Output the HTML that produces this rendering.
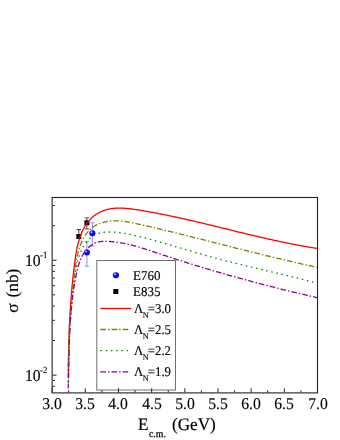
<!DOCTYPE html>
<html><head><meta charset="utf-8"><style>
html,body{margin:0;padding:0;background:#fff}
body{width:340px;height:440px;position:relative;overflow:hidden;font-family:"Liberation Serif",serif;color:#000;text-rendering:geometricPrecision}
#tx{position:absolute;left:0;top:0;width:340px;height:440px;will-change:transform;transform:translateZ(0)}
.t{position:absolute;white-space:nowrap;line-height:1;-webkit-text-stroke:0.15px #000}
.s{position:relative;display:inline-block;line-height:1;-webkit-text-stroke-width:0.12px}
</style></head><body>
<svg width="340" height="440" viewBox="0 0 340 440" style="position:absolute;left:0;top:0">
<defs><radialGradient id="b" cx="0.36" cy="0.33" r="0.62"><stop offset="0" stop-color="#e8e8ff"/><stop offset="0.22" stop-color="#7070ff"/><stop offset="0.42" stop-color="#0808ff"/><stop offset="1" stop-color="#0000f0"/></radialGradient></defs>
<path d="M78.8,229.5 V236 M76.6,229.5 H81" stroke="#404040" stroke-width="1" fill="none"/>
<path d="M86.9,217.8 V229.0 M84.7,217.8 H89.10000000000001 M84.7,229.0 H89.10000000000001" stroke="#404040" stroke-width="0.9" fill="none"/>
<rect x="76.30" y="234.00" width="5" height="5" fill="#000"/>
<rect x="84.40" y="220.30" width="5" height="5" fill="#000"/>
<path d="M86.9,241.4 V266.2 M84.7,241.4 H89.10000000000001 M84.7,266.2 H89.10000000000001" stroke="#8080ff" stroke-width="0.9" fill="none"/>
<path d="M92.4,222.8 V246.1 M90.2,222.8 H94.60000000000001 M90.2,246.1 H94.60000000000001" stroke="#8080ff" stroke-width="0.9" fill="none"/>
<circle cx="86.9" cy="252.5" r="3.05" fill="url(#b)"/>
<circle cx="92.4" cy="233.3" r="3.05" fill="url(#b)"/>
<clipPath id="c"><rect x="52.15" y="197.5" width="265.35" height="195.39999999999998"/></clipPath>
<g clip-path="url(#c)" fill="none" stroke-width="1.3">
<path d="M68.39,377.07 L68.39,376.07 L68.39,375.07 L68.40,374.06 L68.40,373.06 L68.41,372.06 L68.41,371.05 L68.42,370.05 L68.43,369.05 L68.43,368.05 L68.44,367.05 L68.45,366.05 L68.46,365.05 L68.47,364.05 L68.48,363.05 L68.49,362.06 L68.51,361.06 L68.52,360.06 L68.53,359.07 L68.55,358.07 L68.56,357.07 L68.58,356.08 L68.59,355.08 L68.61,354.09 L68.63,353.09 L68.64,352.10 L68.66,351.11 L68.68,350.11 L68.70,349.12 L68.73,348.13 L68.75,347.14 L68.77,346.15 L68.79,345.15 L68.82,344.16 L68.85,343.17 L68.87,342.18 L68.90,341.19 L68.93,340.20 L68.96,339.21 L68.99,338.22 L69.02,337.23 L69.05,336.24 L69.08,335.26 L69.11,334.27 L69.15,333.28 L69.18,332.29 L69.22,331.30 L69.26,330.31 L69.30,329.33 L69.33,328.34 L69.38,327.35 L69.42,326.37 L69.46,325.38 L69.50,324.39 L69.55,323.41 L69.59,322.42 L69.64,321.43 L69.69,320.45 L69.74,319.46 L69.78,318.47 L69.84,317.49 L69.89,316.50 L69.94,315.52 L70.00,314.53 L70.05,313.54 L70.11,312.56 L70.17,311.57 L70.22,310.59 L70.28,309.60 L70.35,308.62 L70.41,307.63 L70.47,306.65 L70.54,305.66 L70.60,304.67 L70.67,303.69 L70.74,302.70 L70.81,301.72 L70.88,300.73 L70.96,299.75 L71.03,298.76 L71.10,297.77 L71.18,296.79 L71.26,295.80 L71.34,294.82 L71.42,293.83 L71.50,292.84 L71.59,291.86 L71.67,290.87 L71.76,289.88 L71.84,288.90 L71.93,287.91 L72.02,286.92 L72.12,285.94 L72.21,284.95 L72.31,283.96 L72.40,282.97 L72.50,281.98 L72.60,281.00 L72.70,280.01 L72.80,279.02 L72.91,278.03 L73.01,277.04 L73.12,276.05 L73.23,275.06 L73.34,274.07 L73.45,273.08 L73.56,272.09 L73.68,271.10 L73.80,270.11 L73.91,269.12 L74.03,268.13 L74.16,267.13 L74.28,266.14 L74.40,265.15 L74.53,264.16 L74.66,263.16 L74.79,262.17 L74.92,261.17 L75.06,260.18 L75.19,259.18 L75.33,258.19 L75.47,257.20 L75.62,256.20 L75.77,255.21 L75.92,254.22 L76.08,253.23 L76.25,252.24 L76.42,251.25 L76.60,250.26 L76.79,249.27 L76.98,248.29 L77.18,247.31 L77.39,246.33 L77.61,245.36 L77.84,244.38 L78.08,243.41 L78.33,242.45 L78.59,241.49 L78.87,240.53 L79.15,239.57 L79.45,238.62 L79.76,237.67 L80.09,236.73 L80.43,235.79 L80.78,234.86 L81.15,233.93 L81.53,233.01 L81.93,232.09 L82.35,231.18 L82.78,230.28 L83.23,229.38 L83.70,228.50 L84.18,227.62 L84.68,226.76 L85.19,225.91 L85.73,225.07 L86.27,224.25 L86.84,223.43 L87.43,222.64 L88.03,221.86 L88.65,221.10 L89.29,220.35 L89.94,219.62 L90.62,218.91 L91.31,218.23 L92.02,217.56 L92.75,216.92 L93.50,216.29 L94.27,215.69 L95.05,215.12 L95.85,214.56 L96.66,214.03 L97.49,213.52 L98.33,213.04 L99.19,212.57 L100.05,212.13 L100.93,211.72 L101.82,211.33 L102.71,210.96 L103.62,210.62 L104.53,210.30 L105.44,210.00 L106.37,209.73 L107.30,209.49 L108.23,209.26 L109.17,209.06 L110.12,208.88 L111.07,208.72 L112.02,208.58 L112.98,208.46 L113.94,208.35 L114.91,208.27 L115.88,208.20 L116.86,208.15 L117.83,208.12 L118.82,208.10 L119.80,208.10 L120.79,208.11 L121.78,208.14 L122.77,208.18 L123.77,208.23 L124.77,208.29 L125.77,208.37 L126.77,208.45 L127.77,208.55 L128.77,208.65 L129.78,208.77 L130.78,208.89 L131.79,209.01 L132.80,209.15 L133.81,209.29 L134.81,209.43 L135.82,209.59 L136.83,209.74 L137.84,209.90 L138.84,210.06 L139.85,210.22 L140.85,210.39 L141.85,210.55 L142.86,210.72 L143.86,210.89 L144.86,211.06 L145.86,211.23 L146.85,211.41 L147.85,211.58 L148.85,211.76 L149.84,211.94 L150.84,212.12 L151.83,212.30 L152.82,212.48 L153.81,212.67 L154.80,212.85 L155.79,213.04 L156.78,213.22 L157.77,213.41 L158.75,213.60 L159.74,213.80 L160.72,213.99 L161.71,214.18 L162.69,214.38 L163.68,214.57 L164.66,214.77 L165.64,214.97 L166.62,215.17 L167.60,215.37 L168.58,215.57 L169.55,215.77 L170.53,215.98 L171.51,216.18 L172.48,216.39 L173.46,216.60 L174.43,216.80 L175.41,217.01 L176.38,217.22 L177.35,217.43 L178.33,217.65 L179.30,217.86 L180.27,218.07 L181.24,218.29 L182.21,218.50 L183.18,218.72 L184.14,218.93 L185.11,219.15 L186.08,219.37 L187.05,219.59 L188.01,219.81 L188.98,220.03 L189.94,220.25 L190.91,220.47 L191.87,220.69 L192.84,220.92 L193.80,221.14 L194.76,221.36 L195.72,221.59 L196.69,221.81 L197.65,222.04 L198.61,222.27 L199.57,222.49 L200.53,222.72 L201.49,222.95 L202.45,223.18 L203.41,223.41 L204.37,223.64 L205.33,223.87 L206.29,224.10 L207.25,224.33 L208.20,224.56 L209.16,224.79 L210.12,225.02 L211.08,225.25 L212.03,225.48 L212.99,225.72 L213.95,225.95 L214.90,226.18 L215.86,226.41 L216.82,226.65 L217.77,226.88 L218.73,227.11 L219.69,227.35 L220.64,227.58 L221.60,227.82 L222.55,228.05 L223.51,228.28 L224.46,228.52 L225.42,228.75 L226.37,228.99 L227.33,229.22 L228.28,229.45 L229.24,229.69 L230.19,229.92 L231.15,230.16 L232.10,230.39 L233.06,230.62 L234.02,230.86 L234.97,231.09 L235.93,231.32 L236.88,231.56 L237.84,231.79 L238.79,232.02 L239.75,232.26 L240.70,232.49 L241.66,232.72 L242.62,232.95 L243.57,233.18 L244.53,233.41 L245.49,233.64 L246.44,233.87 L247.40,234.10 L248.36,234.33 L249.32,234.56 L250.27,234.79 L251.23,235.02 L252.19,235.25 L253.15,235.47 L254.11,235.70 L255.07,235.93 L256.03,236.15 L256.99,236.38 L257.95,236.60 L258.91,236.83 L259.87,237.05 L260.83,237.27 L261.79,237.50 L262.75,237.72 L263.72,237.94 L264.68,238.16 L265.64,238.38 L266.61,238.60 L267.57,238.81 L268.54,239.03 L269.50,239.25 L270.47,239.46 L271.43,239.68 L272.40,239.89 L273.37,240.10 L274.34,240.32 L275.31,240.53 L276.27,240.74 L277.24,240.95 L278.21,241.15 L279.18,241.36 L280.16,241.57 L281.13,241.77 L282.10,241.98 L283.07,242.18 L284.05,242.38 L285.02,242.59 L286.00,242.79 L286.97,242.98 L287.95,243.18 L288.93,243.38 L289.91,243.57 L290.89,243.77 L291.86,243.96 L292.85,244.15 L293.83,244.35 L294.81,244.53 L295.79,244.72 L296.77,244.91 L297.76,245.10 L298.74,245.28 L299.73,245.46 L300.72,245.64 L301.71,245.83 L302.69,246.00 L303.68,246.18 L304.67,246.36 L305.67,246.53 L306.66,246.71 L307.65,246.88 L308.65,247.05 L309.64,247.22 L310.64,247.38 L311.63,247.55 L312.63,247.71 L313.63,247.87 L314.63,248.04 L315.63,248.19 L316.63,248.35 L317.64,248.51" stroke="#ff0000" stroke-dashoffset="0"/>
<path d="M68.48,380.09 L68.46,379.10 L68.45,378.10 L68.43,377.11 L68.42,376.12 L68.41,375.13 L68.41,374.14 L68.40,373.15 L68.39,372.16 L68.39,371.18 L68.39,370.19 L68.39,369.21 L68.39,368.22 L68.39,367.24 L68.40,366.25 L68.40,365.27 L68.41,364.29 L68.42,363.31 L68.43,362.33 L68.44,361.35 L68.45,360.37 L68.47,359.39 L68.48,358.41 L68.50,357.43 L68.52,356.46 L68.54,355.48 L68.56,354.50 L68.59,353.53 L68.61,352.55 L68.64,351.58 L68.66,350.60 L68.69,349.63 L68.72,348.66 L68.75,347.68 L68.78,346.71 L68.82,345.74 L68.85,344.77 L68.89,343.80 L68.93,342.83 L68.97,341.86 L69.01,340.89 L69.05,339.92 L69.09,338.95 L69.13,337.98 L69.18,337.01 L69.23,336.04 L69.27,335.07 L69.32,334.10 L69.37,333.13 L69.43,332.16 L69.48,331.20 L69.53,330.23 L69.59,329.26 L69.64,328.29 L69.70,327.33 L69.76,326.36 L69.82,325.39 L69.88,324.42 L69.94,323.46 L70.01,322.49 L70.07,321.52 L70.14,320.56 L70.20,319.59 L70.27,318.62 L70.34,317.65 L70.41,316.69 L70.48,315.72 L70.55,314.75 L70.62,313.78 L70.70,312.82 L70.77,311.85 L70.85,310.88 L70.93,309.91 L71.01,308.94 L71.08,307.98 L71.16,307.01 L71.25,306.04 L71.33,305.07 L71.41,304.10 L71.50,303.13 L71.58,302.16 L71.67,301.19 L71.75,300.22 L71.84,299.25 L71.93,298.28 L72.02,297.31 L72.11,296.33 L72.20,295.36 L72.30,294.39 L72.39,293.41 L72.48,292.44 L72.58,291.47 L72.68,290.49 L72.77,289.52 L72.87,288.54 L72.97,287.57 L73.07,286.59 L73.17,285.61 L73.27,284.63 L73.37,283.66 L73.48,282.68 L73.58,281.70 L73.68,280.72 L73.79,279.74 L73.90,278.75 L74.00,277.77 L74.11,276.79 L74.22,275.81 L74.33,274.82 L74.44,273.84 L74.55,272.85 L74.67,271.87 L74.78,270.89 L74.91,269.90 L75.03,268.92 L75.16,267.94 L75.29,266.95 L75.43,265.97 L75.57,264.99 L75.72,264.02 L75.88,263.04 L76.04,262.07 L76.20,261.09 L76.38,260.12 L76.56,259.15 L76.75,258.19 L76.95,257.23 L77.15,256.27 L77.37,255.31 L77.59,254.36 L77.83,253.40 L78.08,252.46 L78.33,251.51 L78.60,250.57 L78.88,249.64 L79.17,248.71 L79.47,247.78 L79.79,246.86 L80.11,245.94 L80.46,245.03 L80.81,244.12 L81.18,243.22 L81.57,242.33 L81.97,241.43 L82.38,240.55 L82.81,239.68 L83.26,238.81 L83.72,237.95 L84.20,237.11 L84.70,236.27 L85.22,235.46 L85.75,234.65 L86.31,233.86 L86.88,233.09 L87.47,232.34 L88.08,231.61 L88.71,230.89 L89.36,230.20 L90.04,229.53 L90.73,228.89 L91.45,228.27 L92.18,227.68 L92.94,227.11 L93.73,226.57 L94.53,226.06 L95.35,225.57 L96.18,225.11 L97.04,224.68 L97.91,224.27 L98.79,223.88 L99.69,223.52 L100.60,223.18 L101.52,222.87 L102.45,222.58 L103.39,222.31 L104.33,222.07 L105.29,221.85 L106.25,221.65 L107.21,221.47 L108.17,221.31 L109.14,221.18 L110.11,221.07 L111.08,220.97 L112.05,220.90 L113.02,220.85 L113.99,220.81 L114.96,220.79 L115.93,220.79 L116.90,220.81 L117.86,220.84 L118.83,220.89 L119.80,220.95 L120.77,221.03 L121.74,221.11 L122.71,221.22 L123.68,221.33 L124.65,221.46 L125.61,221.59 L126.58,221.74 L127.55,221.89 L128.52,222.06 L129.49,222.23 L130.45,222.41 L131.42,222.60 L132.39,222.79 L133.35,222.99 L134.32,223.19 L135.28,223.40 L136.25,223.61 L137.21,223.83 L138.18,224.04 L139.14,224.26 L140.10,224.48 L141.07,224.70 L142.03,224.92 L142.99,225.14 L143.95,225.36 L144.91,225.59 L145.87,225.81 L146.83,226.03 L147.79,226.25 L148.75,226.48 L149.71,226.70 L150.67,226.92 L151.63,227.15 L152.59,227.37 L153.54,227.60 L154.50,227.82 L155.46,228.05 L156.41,228.28 L157.37,228.50 L158.32,228.73 L159.28,228.96 L160.23,229.19 L161.19,229.41 L162.14,229.64 L163.09,229.87 L164.05,230.10 L165.00,230.33 L165.95,230.56 L166.90,230.79 L167.86,231.02 L168.81,231.25 L169.76,231.48 L170.71,231.71 L171.66,231.94 L172.61,232.18 L173.56,232.41 L174.51,232.64 L175.46,232.87 L176.41,233.11 L177.36,233.34 L178.30,233.57 L179.25,233.81 L180.20,234.04 L181.15,234.27 L182.10,234.51 L183.04,234.74 L183.99,234.98 L184.94,235.21 L185.88,235.45 L186.83,235.68 L187.78,235.92 L188.72,236.15 L189.67,236.39 L190.61,236.62 L191.56,236.86 L192.50,237.10 L193.45,237.33 L194.39,237.57 L195.34,237.81 L196.28,238.04 L197.23,238.28 L198.17,238.52 L199.11,238.75 L200.06,238.99 L201.00,239.23 L201.95,239.47 L202.89,239.70 L203.83,239.94 L204.78,240.18 L205.72,240.42 L206.66,240.66 L207.60,240.89 L208.55,241.13 L209.49,241.37 L210.43,241.61 L211.37,241.85 L212.32,242.08 L213.26,242.32 L214.20,242.56 L215.14,242.80 L216.08,243.04 L217.03,243.28 L217.97,243.51 L218.91,243.75 L219.85,243.99 L220.79,244.23 L221.74,244.47 L222.68,244.71 L223.62,244.94 L224.56,245.18 L225.50,245.42 L226.44,245.66 L227.39,245.90 L228.33,246.13 L229.27,246.37 L230.21,246.61 L231.15,246.85 L232.10,247.09 L233.04,247.32 L233.98,247.56 L234.92,247.80 L235.86,248.04 L236.80,248.27 L237.75,248.51 L238.69,248.75 L239.63,248.98 L240.57,249.22 L241.52,249.46 L242.46,249.69 L243.40,249.93 L244.34,250.16 L245.29,250.40 L246.23,250.64 L247.17,250.87 L248.11,251.11 L249.06,251.34 L250.00,251.58 L250.94,251.81 L251.89,252.05 L252.83,252.28 L253.78,252.52 L254.72,252.75 L255.66,252.98 L256.61,253.22 L257.55,253.45 L258.50,253.68 L259.44,253.92 L260.39,254.15 L261.33,254.38 L262.28,254.61 L263.22,254.84 L264.17,255.08 L265.11,255.31 L266.06,255.54 L267.01,255.77 L267.95,256.00 L268.90,256.23 L269.85,256.46 L270.80,256.69 L271.74,256.92 L272.69,257.15 L273.64,257.38 L274.59,257.60 L275.54,257.83 L276.48,258.06 L277.43,258.29 L278.38,258.51 L279.33,258.74 L280.28,258.96 L281.23,259.19 L282.18,259.42 L283.13,259.64 L284.09,259.86 L285.04,260.09 L285.99,260.31 L286.94,260.54 L287.89,260.76 L288.85,260.98 L289.80,261.20 L290.75,261.42 L291.71,261.64 L292.66,261.87 L293.62,262.09 L294.57,262.31 L295.53,262.52 L296.48,262.74 L297.44,262.96 L298.40,263.18 L299.35,263.40 L300.31,263.61 L301.27,263.83 L302.23,264.05 L303.18,264.26 L304.14,264.48 L305.10,264.69 L306.06,264.90 L307.02,265.12 L307.98,265.33 L308.94,265.54 L309.91,265.75 L310.87,265.96 L311.83,266.18 L312.79,266.39 L313.76,266.59 L314.72,266.80 L315.68,267.01 L316.65,267.22 L317.62,267.43" stroke="#808000" stroke-dasharray="5.6 2.05 1.45 2.05" stroke-dashoffset="-1.4"/>
<path d="M68.44,384.63 L68.43,383.63 L68.42,382.64 L68.41,381.65 L68.40,380.66 L68.40,379.67 L68.39,378.68 L68.39,377.69 L68.39,376.71 L68.39,375.72 L68.39,374.74 L68.39,373.76 L68.40,372.78 L68.40,371.80 L68.41,370.82 L68.42,369.84 L68.42,368.86 L68.44,367.89 L68.45,366.91 L68.46,365.94 L68.47,364.97 L68.49,364.00 L68.51,363.03 L68.53,362.06 L68.55,361.09 L68.57,360.12 L68.59,359.16 L68.61,358.19 L68.64,357.23 L68.66,356.26 L68.69,355.30 L68.72,354.33 L68.75,353.37 L68.78,352.41 L68.81,351.45 L68.85,350.49 L68.88,349.53 L68.92,348.57 L68.95,347.61 L68.99,346.65 L69.03,345.70 L69.07,344.74 L69.12,343.78 L69.16,342.83 L69.20,341.87 L69.25,340.91 L69.30,339.96 L69.35,339.00 L69.40,338.05 L69.45,337.09 L69.50,336.14 L69.55,335.19 L69.61,334.23 L69.66,333.28 L69.72,332.32 L69.78,331.37 L69.84,330.42 L69.90,329.46 L69.96,328.51 L70.02,327.56 L70.09,326.60 L70.15,325.65 L70.22,324.70 L70.28,323.74 L70.35,322.79 L70.42,321.84 L70.49,320.88 L70.57,319.93 L70.64,318.97 L70.71,318.02 L70.79,317.06 L70.87,316.11 L70.94,315.15 L71.02,314.20 L71.10,313.24 L71.18,312.28 L71.27,311.33 L71.35,310.37 L71.44,309.41 L71.52,308.45 L71.61,307.49 L71.70,306.53 L71.78,305.57 L71.88,304.61 L71.97,303.65 L72.06,302.69 L72.15,301.72 L72.25,300.76 L72.34,299.79 L72.44,298.83 L72.54,297.86 L72.64,296.90 L72.74,295.93 L72.84,294.96 L72.94,293.99 L73.04,293.02 L73.15,292.05 L73.25,291.07 L73.36,290.10 L73.46,289.13 L73.57,288.15 L73.68,287.17 L73.79,286.20 L73.90,285.22 L74.02,284.24 L74.13,283.26 L74.25,282.27 L74.36,281.29 L74.48,280.31 L74.60,279.32 L74.71,278.33 L74.84,277.35 L74.96,276.36 L75.09,275.37 L75.22,274.38 L75.35,273.40 L75.49,272.41 L75.63,271.43 L75.78,270.45 L75.94,269.47 L76.10,268.49 L76.27,267.52 L76.45,266.55 L76.63,265.58 L76.82,264.62 L77.03,263.66 L77.24,262.71 L77.46,261.76 L77.69,260.82 L77.93,259.88 L78.19,258.95 L78.45,258.03 L78.73,257.11 L79.02,256.21 L79.33,255.30 L79.64,254.41 L79.98,253.53 L80.32,252.65 L80.69,251.78 L81.07,250.92 L81.46,250.08 L81.87,249.24 L82.30,248.41 L82.75,247.59 L83.22,246.79 L83.70,246.00 L84.20,245.21 L84.73,244.44 L85.27,243.69 L85.84,242.94 L86.42,242.21 L87.03,241.50 L87.66,240.80 L88.31,240.11 L88.99,239.43 L89.69,238.78 L90.41,238.13 L91.16,237.51 L91.93,236.91 L92.72,236.34 L93.53,235.79 L94.36,235.27 L95.21,234.79 L96.08,234.35 L96.96,233.94 L97.87,233.58 L98.78,233.26 L99.71,233.00 L100.66,232.77 L101.61,232.59 L102.57,232.45 L103.53,232.33 L104.50,232.23 L105.47,232.16 L106.44,232.10 L107.41,232.05 L108.38,232.02 L109.34,232.00 L110.31,232.00 L111.27,232.01 L112.24,232.03 L113.20,232.07 L114.16,232.12 L115.13,232.18 L116.09,232.25 L117.05,232.34 L118.01,232.43 L118.97,232.54 L119.93,232.65 L120.89,232.78 L121.85,232.91 L122.80,233.05 L123.76,233.20 L124.71,233.36 L125.67,233.53 L126.62,233.71 L127.58,233.89 L128.53,234.08 L129.48,234.27 L130.43,234.47 L131.38,234.68 L132.33,234.89 L133.28,235.10 L134.23,235.32 L135.18,235.54 L136.13,235.77 L137.07,236.00 L138.02,236.23 L138.96,236.47 L139.91,236.71 L140.85,236.94 L141.79,237.18 L142.73,237.43 L143.68,237.67 L144.62,237.91 L145.56,238.16 L146.50,238.41 L147.43,238.66 L148.37,238.91 L149.31,239.16 L150.25,239.41 L151.18,239.66 L152.12,239.92 L153.05,240.17 L153.99,240.43 L154.92,240.69 L155.85,240.95 L156.79,241.21 L157.72,241.47 L158.65,241.73 L159.58,242.00 L160.51,242.26 L161.44,242.52 L162.38,242.79 L163.31,243.05 L164.23,243.32 L165.16,243.59 L166.09,243.86 L167.02,244.13 L167.95,244.39 L168.88,244.66 L169.80,244.93 L170.73,245.21 L171.66,245.48 L172.59,245.75 L173.51,246.02 L174.44,246.29 L175.37,246.57 L176.29,246.84 L177.22,247.11 L178.14,247.38 L179.07,247.66 L179.99,247.93 L180.92,248.21 L181.85,248.48 L182.77,248.75 L183.70,249.03 L184.62,249.30 L185.55,249.57 L186.47,249.85 L187.40,250.12 L188.32,250.39 L189.25,250.67 L190.17,250.94 L191.10,251.21 L192.02,251.48 L192.95,251.76 L193.87,252.03 L194.80,252.30 L195.72,252.57 L196.65,252.84 L197.58,253.11 L198.50,253.38 L199.43,253.65 L200.36,253.91 L201.28,254.18 L202.21,254.45 L203.14,254.71 L204.07,254.98 L204.99,255.24 L205.92,255.50 L206.85,255.77 L207.78,256.03 L208.71,256.29 L209.64,256.55 L210.57,256.81 L211.50,257.06 L212.43,257.32 L213.36,257.58 L214.29,257.83 L215.22,258.08 L216.16,258.33 L217.09,258.59 L218.02,258.83 L218.96,259.08 L219.89,259.33 L220.83,259.58 L221.76,259.82 L222.70,260.07 L223.63,260.31 L224.57,260.55 L225.51,260.79 L226.44,261.03 L227.38,261.27 L228.32,261.51 L229.26,261.75 L230.19,261.98 L231.13,262.22 L232.07,262.45 L233.01,262.69 L233.95,262.92 L234.89,263.15 L235.83,263.39 L236.77,263.62 L237.71,263.85 L238.65,264.08 L239.59,264.31 L240.53,264.54 L241.48,264.76 L242.42,264.99 L243.36,265.22 L244.30,265.45 L245.24,265.67 L246.19,265.90 L247.13,266.12 L248.07,266.35 L249.01,266.57 L249.96,266.80 L250.90,267.02 L251.84,267.24 L252.79,267.47 L253.73,267.69 L254.67,267.91 L255.62,268.13 L256.56,268.35 L257.50,268.58 L258.45,268.80 L259.39,269.02 L260.33,269.24 L261.28,269.46 L262.22,269.68 L263.17,269.90 L264.11,270.12 L265.05,270.34 L266.00,270.57 L266.94,270.79 L267.88,271.01 L268.83,271.23 L269.77,271.45 L270.71,271.67 L271.66,271.89 L272.60,272.11 L273.54,272.34 L274.49,272.56 L275.43,272.78 L276.37,273.00 L277.31,273.22 L278.26,273.45 L279.20,273.67 L280.14,273.89 L281.08,274.12 L282.03,274.34 L282.97,274.57 L283.91,274.79 L284.85,275.02 L285.79,275.24 L286.73,275.47 L287.67,275.70 L288.61,275.93 L289.55,276.15 L290.49,276.38 L291.43,276.61 L292.37,276.84 L293.31,277.07 L294.25,277.30 L295.19,277.54 L296.12,277.77 L297.06,278.00 L298.00,278.24 L298.94,278.47 L299.87,278.71 L300.81,278.95 L301.74,279.18 L302.68,279.42 L303.61,279.66 L304.55,279.90 L305.48,280.14 L306.42,280.39 L307.35,280.63 L308.28,280.87 L309.21,281.12 L310.15,281.36 L311.08,281.61 L312.01,281.86 L312.94,282.11 L313.87,282.36 L314.80,282.61 L315.73,282.87 L316.66,283.12 L317.58,283.38" stroke="#008a00" stroke-dasharray="1.5 3.74" stroke-dashoffset="-2.85"/>
<path d="M68.23,388.43 L68.26,387.46 L68.30,386.50 L68.32,385.53 L68.35,384.57 L68.38,383.61 L68.41,382.64 L68.43,381.68 L68.46,380.72 L68.48,379.76 L68.51,378.79 L68.53,377.83 L68.56,376.87 L68.58,375.91 L68.60,374.94 L68.62,373.98 L68.64,373.02 L68.67,372.06 L68.69,371.10 L68.71,370.13 L68.73,369.17 L68.75,368.21 L68.77,367.25 L68.79,366.29 L68.81,365.33 L68.83,364.37 L68.85,363.41 L68.87,362.45 L68.89,361.49 L68.91,360.53 L68.93,359.57 L68.95,358.61 L68.97,357.65 L68.99,356.69 L69.01,355.73 L69.03,354.77 L69.06,353.81 L69.08,352.85 L69.10,351.89 L69.13,350.93 L69.15,349.97 L69.17,349.01 L69.20,348.05 L69.23,347.10 L69.25,346.14 L69.28,345.18 L69.31,344.22 L69.34,343.26 L69.37,342.31 L69.40,341.35 L69.43,340.39 L69.47,339.43 L69.50,338.48 L69.54,337.52 L69.57,336.56 L69.61,335.60 L69.65,334.65 L69.69,333.69 L69.73,332.73 L69.77,331.78 L69.82,330.82 L69.86,329.87 L69.91,328.91 L69.96,327.95 L70.01,327.00 L70.06,326.04 L70.11,325.09 L70.17,324.13 L70.22,323.18 L70.28,322.22 L70.34,321.26 L70.40,320.31 L70.46,319.35 L70.53,318.40 L70.60,317.45 L70.67,316.49 L70.74,315.54 L70.81,314.58 L70.88,313.63 L70.96,312.67 L71.04,311.72 L71.12,310.77 L71.21,309.81 L71.29,308.86 L71.38,307.91 L71.47,306.95 L71.57,306.00 L71.66,305.05 L71.76,304.09 L71.86,303.14 L71.96,302.19 L72.07,301.24 L72.18,300.28 L72.29,299.33 L72.40,298.38 L72.52,297.43 L72.64,296.48 L72.76,295.52 L72.88,294.57 L73.01,293.62 L73.14,292.67 L73.27,291.72 L73.41,290.77 L73.55,289.82 L73.69,288.86 L73.84,287.91 L73.99,286.96 L74.14,286.01 L74.30,285.06 L74.46,284.11 L74.62,283.16 L74.78,282.21 L74.95,281.26 L75.12,280.31 L75.30,279.36 L75.48,278.41 L75.66,277.46 L75.85,276.51 L76.04,275.56 L76.23,274.62 L76.43,273.67 L76.63,272.72 L76.84,271.77 L77.06,270.83 L77.28,269.88 L77.51,268.94 L77.75,268.01 L78.00,267.07 L78.26,266.14 L78.54,265.22 L78.82,264.30 L79.12,263.38 L79.43,262.47 L79.76,261.57 L80.10,260.67 L80.46,259.78 L80.83,258.90 L81.23,258.02 L81.64,257.15 L82.07,256.30 L82.52,255.45 L82.99,254.61 L83.49,253.78 L84.01,252.96 L84.55,252.15 L85.11,251.36 L85.70,250.58 L86.31,249.82 L86.94,249.08 L87.59,248.37 L88.26,247.68 L88.96,247.02 L89.68,246.39 L90.41,245.79 L91.17,245.22 L91.95,244.69 L92.75,244.20 L93.56,243.75 L94.40,243.34 L95.25,242.97 L96.12,242.64 L97.00,242.35 L97.89,242.10 L98.80,241.89 L99.72,241.71 L100.65,241.57 L101.58,241.46 L102.53,241.39 L103.47,241.34 L104.43,241.31 L105.38,241.31 L106.34,241.32 L107.30,241.35 L108.26,241.39 L109.21,241.45 L110.17,241.51 L111.12,241.58 L112.07,241.66 L113.03,241.75 L113.98,241.85 L114.92,241.95 L115.87,242.07 L116.82,242.20 L117.76,242.33 L118.71,242.47 L119.65,242.62 L120.59,242.78 L121.53,242.94 L122.47,243.11 L123.41,243.29 L124.35,243.48 L125.29,243.67 L126.22,243.87 L127.16,244.07 L128.09,244.29 L129.02,244.50 L129.96,244.73 L130.89,244.96 L131.82,245.19 L132.75,245.43 L133.68,245.68 L134.61,245.93 L135.53,246.18 L136.46,246.44 L137.39,246.70 L138.31,246.97 L139.24,247.24 L140.16,247.52 L141.08,247.80 L142.01,248.08 L142.93,248.36 L143.85,248.65 L144.77,248.94 L145.70,249.23 L146.62,249.53 L147.54,249.83 L148.46,250.13 L149.38,250.43 L150.30,250.73 L151.21,251.03 L152.13,251.34 L153.05,251.65 L153.97,251.95 L154.89,252.26 L155.81,252.57 L156.72,252.88 L157.64,253.18 L158.56,253.49 L159.48,253.80 L160.39,254.11 L161.31,254.41 L162.23,254.72 L163.15,255.02 L164.06,255.33 L164.98,255.63 L165.90,255.94 L166.81,256.24 L167.73,256.54 L168.65,256.84 L169.56,257.14 L170.48,257.44 L171.40,257.74 L172.31,258.04 L173.23,258.34 L174.15,258.63 L175.06,258.93 L175.98,259.23 L176.90,259.52 L177.81,259.82 L178.73,260.11 L179.65,260.40 L180.56,260.70 L181.48,260.99 L182.40,261.28 L183.31,261.57 L184.23,261.86 L185.15,262.15 L186.06,262.44 L186.98,262.73 L187.90,263.01 L188.82,263.30 L189.73,263.59 L190.65,263.87 L191.57,264.16 L192.48,264.44 L193.40,264.73 L194.32,265.01 L195.23,265.29 L196.15,265.57 L197.07,265.85 L197.98,266.14 L198.90,266.42 L199.82,266.70 L200.74,266.97 L201.65,267.25 L202.57,267.53 L203.49,267.81 L204.41,268.08 L205.32,268.36 L206.24,268.63 L207.16,268.91 L208.08,269.18 L208.99,269.46 L209.91,269.73 L210.83,270.00 L211.75,270.27 L212.67,270.54 L213.58,270.81 L214.50,271.08 L215.42,271.35 L216.34,271.62 L217.26,271.89 L218.18,272.16 L219.10,272.43 L220.02,272.69 L220.93,272.96 L221.85,273.22 L222.77,273.49 L223.69,273.75 L224.61,274.02 L225.53,274.28 L226.45,274.54 L227.37,274.80 L228.29,275.06 L229.21,275.32 L230.13,275.58 L231.05,275.84 L231.97,276.10 L232.89,276.36 L233.81,276.62 L234.74,276.88 L235.66,277.13 L236.58,277.39 L237.50,277.65 L238.42,277.90 L239.34,278.16 L240.26,278.41 L241.19,278.66 L242.11,278.92 L243.03,279.17 L243.95,279.42 L244.88,279.67 L245.80,279.92 L246.72,280.17 L247.65,280.42 L248.57,280.67 L249.49,280.92 L250.42,281.17 L251.34,281.42 L252.27,281.66 L253.19,281.91 L254.12,282.16 L255.04,282.40 L255.97,282.65 L256.89,282.89 L257.82,283.13 L258.74,283.38 L259.67,283.62 L260.59,283.86 L261.52,284.11 L262.45,284.35 L263.37,284.59 L264.30,284.83 L265.23,285.07 L266.16,285.31 L267.08,285.55 L268.01,285.78 L268.94,286.02 L269.87,286.26 L270.80,286.50 L271.73,286.73 L272.65,286.97 L273.58,287.20 L274.51,287.44 L275.44,287.67 L276.37,287.91 L277.30,288.14 L278.24,288.37 L279.17,288.61 L280.10,288.84 L281.03,289.07 L281.96,289.30 L282.89,289.53 L283.83,289.76 L284.76,289.99 L285.69,290.22 L286.62,290.45 L287.56,290.68 L288.49,290.90 L289.43,291.13 L290.36,291.36 L291.30,291.58 L292.23,291.81 L293.17,292.03 L294.10,292.26 L295.04,292.48 L295.97,292.71 L296.91,292.93 L297.85,293.15 L298.78,293.38 L299.72,293.60 L300.66,293.82 L301.60,294.04 L302.54,294.26 L303.48,294.48 L304.41,294.70 L305.35,294.92 L306.29,295.14 L307.23,295.36 L308.17,295.58 L309.12,295.80 L310.06,296.01 L311.00,296.23 L311.94,296.45 L312.88,296.66 L313.83,296.88 L314.77,297.09 L315.71,297.31 L316.66,297.52 L317.60,297.74" stroke="#900090" stroke-dasharray="5.6 2.05 1.45 2.05" stroke-dashoffset="0.75"/>
</g>
<rect x="67.7" y="381.5" width="1.3" height="1.5" fill="#008a00"/>
<rect x="96.8" y="260.5" width="78.7" height="129.5" fill="#fff" stroke="#707070" stroke-width="1"/>
<circle cx="115.9" cy="275.3" r="3.05" fill="url(#b)"/>
<rect x="113.3" y="289.0" width="5.0" height="5.0" fill="#000"/>
<path d="M100.4,308.5 H131.3" stroke="#ff0000" stroke-width="1.3" fill="none"/>
<path d="M100.4,329.5 H128.9" stroke="#808000" stroke-width="1.3" fill="none" stroke-dasharray="5.6 2.05 1.45 2.05"/>
<path d="M100.4,350.6 H128.9" stroke="#008a00" stroke-width="1.3" fill="none" stroke-dasharray="1.5 3.74"/>
<path d="M100.4,371.9 H128.9" stroke="#900090" stroke-width="1.3" fill="none" stroke-dasharray="5.6 2.05 1.45 2.05"/>
<rect x="52.15" y="197.5" width="265.35" height="195.39999999999998" fill="none" stroke="#222" stroke-width="1.1"/>
<path d="M52.15,392.5 v-4.2 M68.73,392.5 v-2.2 M85.32,392.5 v-4.2 M101.90,392.5 v-2.2 M118.49,392.5 v-4.2 M135.07,392.5 v-2.2 M151.66,392.5 v-4.2 M168.24,392.5 v-2.2 M184.83,392.5 v-4.2 M201.41,392.5 v-2.2 M217.99,392.5 v-4.2 M234.58,392.5 v-2.2 M251.16,392.5 v-4.2 M267.75,392.5 v-2.2 M284.33,392.5 v-4.2 M300.92,392.5 v-2.2 M317.50,392.5 v-4.2 M52.55,386.28 h2.4 M52.55,380.41 h2.4 M52.55,375.15 h4.0 M52.55,340.56 h2.4 M52.55,320.33 h2.4 M52.55,305.97 h2.4 M52.55,294.84 h2.4 M52.55,285.74 h2.4 M52.55,278.05 h2.4 M52.55,271.38 h2.4 M52.55,265.51 h2.4 M52.55,260.25 h4.0 M52.55,225.66 h2.4 M52.55,205.43 h2.4" stroke="#222" stroke-width="1" fill="none"/>
</svg>
<div id="tx">
<div class="t" style="font-size:16.5px;left:12.15px;top:396.08px;width:80px;text-align:center;transform:scaleX(0.95);transform-origin:50% 50%;">3.0</div>
<div class="t" style="font-size:16.5px;left:45.32px;top:396.08px;width:80px;text-align:center;transform:scaleX(0.95);transform-origin:50% 50%;">3.5</div>
<div class="t" style="font-size:16.5px;left:78.49px;top:396.08px;width:80px;text-align:center;transform:scaleX(0.95);transform-origin:50% 50%;">4.0</div>
<div class="t" style="font-size:16.5px;left:111.66px;top:396.08px;width:80px;text-align:center;transform:scaleX(0.95);transform-origin:50% 50%;">4.5</div>
<div class="t" style="font-size:16.5px;left:144.83px;top:396.08px;width:80px;text-align:center;transform:scaleX(0.95);transform-origin:50% 50%;">5.0</div>
<div class="t" style="font-size:16.5px;left:177.99px;top:396.08px;width:80px;text-align:center;transform:scaleX(0.95);transform-origin:50% 50%;">5.5</div>
<div class="t" style="font-size:16.5px;left:211.16px;top:396.08px;width:80px;text-align:center;transform:scaleX(0.95);transform-origin:50% 50%;">6.0</div>
<div class="t" style="font-size:16.5px;left:244.33px;top:396.08px;width:80px;text-align:center;transform:scaleX(0.95);transform-origin:50% 50%;">6.5</div>
<div class="t" style="font-size:16.5px;left:277.50px;top:396.08px;width:80px;text-align:center;transform:scaleX(0.95);transform-origin:50% 50%;">7.0</div>
<div class="t" style="font-size:16.5px;left:25.20px;top:252.58px;transform:scaleX(0.95);transform-origin:0 50%;">10<span class="s" style="font-size:9.3px;top:-7.6px;left:-0.7px">-1</span></div>
<div class="t" style="font-size:16.5px;left:25.20px;top:367.98px;transform:scaleX(0.95);transform-origin:0 50%;">10<span class="s" style="font-size:9.3px;top:-7.6px;left:-0.7px">-2</span></div>
<div class="t" style="font-size:17.5px;left:137.60px;top:415.74px;transform:scaleX(0.98);transform-origin:0 50%;-webkit-text-stroke-width:0.2px;">E<span class="s" style="font-size:10px;top:6.8px;left:0.5px;margin-right:2.4px;-webkit-text-stroke-width:0.25px">c.m.</span> (GeV)</div>
<div class="t" style="font-size:17.3px;word-spacing:1.7px;-webkit-text-stroke-width:0.15px;left:0;top:0;transform-origin:0 0;transform:translate(3.81px,312.8px) rotate(-90deg)">&sigma; (nb)</div>
<div class="t" style="font-size:13.4px;left:133.30px;top:268.58px;transform:scaleX(0.97);transform-origin:0 50%;-webkit-text-stroke-width:0.15px;">E760</div>
<div class="t" style="font-size:13.4px;left:133.30px;top:284.98px;transform:scaleX(0.97);transform-origin:0 50%;-webkit-text-stroke-width:0.15px;">E835</div>
<div class="t" style="font-size:13.4px;left:133.60px;top:302.08px;transform:scaleX(0.955);transform-origin:0 50%;-webkit-text-stroke-width:0.15px;">&Lambda;<span class="s" style="font-size:8.6px;top:4.9px;left:-0.6px;margin-right:-1.5px">N</span>=3.0</div>
<div class="t" style="font-size:13.4px;left:133.60px;top:323.08px;transform:scaleX(0.955);transform-origin:0 50%;-webkit-text-stroke-width:0.15px;">&Lambda;<span class="s" style="font-size:8.6px;top:4.9px;left:-0.6px;margin-right:-1.5px">N</span>=2.5</div>
<div class="t" style="font-size:13.4px;left:133.60px;top:344.08px;transform:scaleX(0.955);transform-origin:0 50%;-webkit-text-stroke-width:0.15px;">&Lambda;<span class="s" style="font-size:8.6px;top:4.9px;left:-0.6px;margin-right:-1.5px">N</span>=2.2</div>
<div class="t" style="font-size:13.4px;left:133.60px;top:365.38px;transform:scaleX(0.955);transform-origin:0 50%;-webkit-text-stroke-width:0.15px;">&Lambda;<span class="s" style="font-size:8.6px;top:4.9px;left:-0.6px;margin-right:-1.5px">N</span>=1.9</div>
</div></body></html>
